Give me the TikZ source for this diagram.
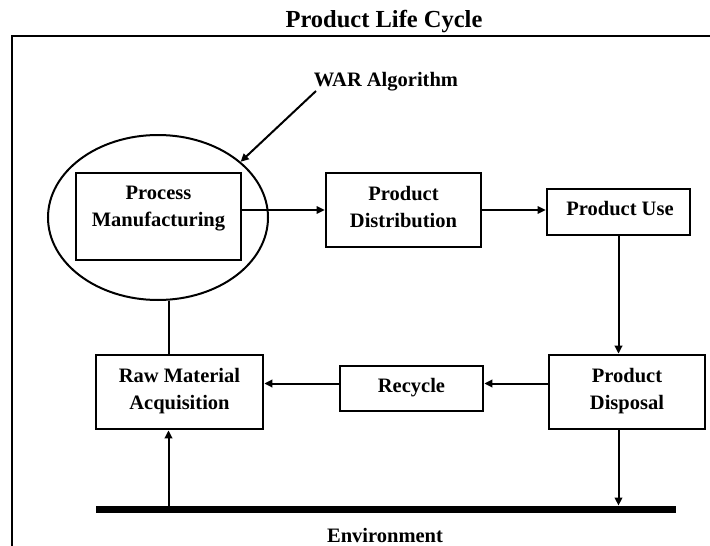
\documentclass[tikz,border=0pt]{standalone}
\usepackage{fontspec}
\setmainfont{Liberation Serif}
\usetikzlibrary{arrows.meta,shapes.geometric}
\begin{document}
\begin{tikzpicture}[x=1pt,y=-1pt,
  box/.style={draw,line width=2.7pt,rectangle,inner sep=0pt},
  lbl/.style={font=\fontsize{20.5}{27}\selectfont\bfseries,align=center,inner sep=0pt},
  conn/.style={line width=2pt},
  arr/.style={conn,-{Triangle[length=8pt,width=7.5pt]}}]
\useasboundingbox (0,0) rectangle (710,546);
% frame
\draw[line width=2.8pt] (12,546) -- (12,36) -- (710,36);
\node[lbl,font=\fontsize{24.5}{30}\selectfont\bfseries] (title) at (384,22) {Product Life Cycle};
% ellipse and boxes
\node[draw,ellipse,line width=2pt,minimum width=220pt,minimum height=165pt,inner sep=0pt] (ell) at (158,217.5) {};
\node[box,minimum width=165pt,minimum height=87pt] (pm) at (158.5,216.5) {};
\node[lbl] (pmt) at (158.5,209) {Process\\Manufacturing};
\node[box,minimum width=155pt,minimum height=74pt] (dist) at (403.5,210) {};
\node[lbl] (distt) at (403.5,207) {Product\\Distribution};
\node[box,minimum width=143pt,minimum height=46pt] (use) at (618.5,212) {};
\node[lbl] (uset) at (620,209) {Product Use};
\node[box,minimum width=167pt,minimum height=74pt] (raw) at (179.5,392) {};
\node[lbl] (rawt) at (179.5,391) {Raw Material\\Acquisition};
\node[box,minimum width=143pt,minimum height=45pt] (rec) at (411.5,388.5) {};
\node[lbl] (rect) at (411.5,388) {Recycle};
\node[box,minimum width=156pt,minimum height=74pt] (disp) at (627,392) {};
\node[lbl] (dispt) at (627,391) {Product\\Disposal};
\node[fill=black,minimum width=580pt,minimum height=7.5pt,inner sep=0pt] (bar) at (386,509.5) {};
\node[lbl] (env) at (385,535) {Environment};
\node[lbl] (war) at (386,82) {WAR Algorithm};
\coordinate (warl) at (316,91);
\coordinate (vx) at (168.5,0);
\coordinate (vy) at (0,383.5);
% connectors
\draw[arr] (warl) -- (ell.34);
\draw[arr,line width=1.5pt] (pm.east |- dist.west) -- (dist.west);
\draw[arr,line width=1.5pt] (dist.east) -- (dist.east -| use.west);
\draw[arr] (use.south) -- (use.south |- disp.north);
\draw[arr] (disp.west |- vy) -- (rec.east |- vy);
\draw[arr] (rec.west |- vy) -- (raw.east |- vy);
\draw[conn] (vx |- ell.south) -- (vx |- raw.north);
\draw[arr] (use.south |- disp.south) -- (use.south |- bar.north);
\draw[arr] (vx |- bar.north) -- (vx |- raw.south);
\end{tikzpicture}
\end{document}
